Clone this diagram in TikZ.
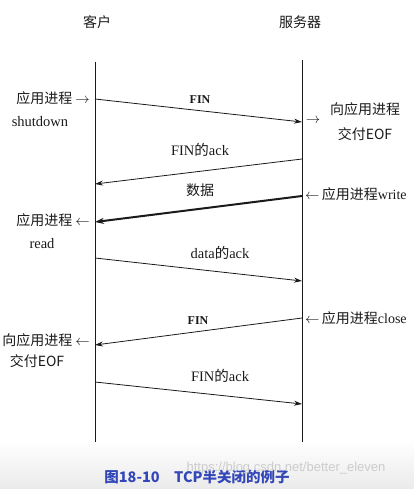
\documentclass[tikz,border=0pt]{standalone}
\usepackage{fontspec}
\setmainfont{Liberation Serif}
\newfontfamily\cjk{Noto Sans CJK SC}
\newfontfamily\wmfont{Liberation Sans}
\usetikzlibrary{arrows.meta}
\definecolor{ink}{HTML}{1A1A1A}
\definecolor{capblue}{HTML}{3347B8}
\begin{document}
\begin{tikzpicture}[x=1pt,y=-1pt,
  every node/.style={inner sep=1pt, text=ink},
  lbl/.style={font=\cjk\fontsize{14}{16}\selectfont},
  mlbl/.style={font=\fontsize{14.5}{16}\selectfont},
  life/.style={draw=ink, line width=0.8pt},
  msg/.style={draw=ink, line width=0.8pt, -{Stealth[length=8pt,width=5pt]}},
  bigmsg/.style={draw=ink, line width=2pt, -{Stealth[length=9pt,width=6pt]}}]
\useasboundingbox (0,0) rectangle (414,489);
\shade[top color=white, bottom color=black!8] (0,440) rectangle (414,489);
% headers
\node[lbl] (hc) at (97,22) {客户};
\node[lbl] (hs) at (300,22) {服务器};
% lifelines
\coordinate (ct) at (95,62); \coordinate (cb) at (95,442);
\coordinate (st) at (302,60); \coordinate (sb) at (302,442);
\draw[life] (ct) -- (cb);
\draw[life] (st) -- (sb);
% message endpoints
\coordinate (a1) at (95,99);  \coordinate (b1) at (302,122);
\coordinate (a2) at (302,159); \coordinate (b2) at (95,184);
\coordinate (a3) at (302,196); \coordinate (b3) at (95,222);
\coordinate (a4) at (95,258); \coordinate (b4) at (302,281);
\coordinate (a5) at (302,318); \coordinate (b5) at (95,345);
\coordinate (a6) at (95,382); \coordinate (b6) at (302,404);
\draw[msg] (a1) -- (b1);
\draw[msg] (a2) -- (b2);
\draw[bigmsg] (a3) -- (b3);
\draw[msg] (a4) -- (b4);
\draw[msg] (a5) -- (b5);
\draw[msg] (a6) -- (b6);
% message labels
\node[font=\bfseries\fontsize{12}{14}\selectfont] (m1) at (200,100) {FIN};
\node[mlbl] (m2) at (200,150) {FIN{\cjk 的}ack};
\node[lbl] (m3) at (200,190) {数据};
\node[mlbl] (m4) at (220,253) {data{\cjk 的}ack};
\node[font=\bfseries\fontsize{12}{14}\selectfont] (m5) at (198,321) {FIN};
\node[mlbl] (m6) at (220,376) {FIN{\cjk 的}ack};
% left side labels
\node[lbl, anchor=east] (l1) at (91,98) {应用进程 $\rightarrow$};
\node[mlbl] (l1b) at (40,122) {shutdown};
\node[lbl, anchor=east] (l2) at (91,220) {应用进程 $\leftarrow$};
\node[mlbl] (l2b) at (42,244) {read};
\node[lbl, anchor=east] (l3) at (91,340) {向应用进程 $\leftarrow$};
\node[lbl] (l3b) at (37,361) {交付EOF};
% right side labels
\node[mlbl] (r1a) at (313,121) {$\rightarrow$};
\node[lbl] (r1) at (365,109) {向应用进程};
\node[lbl] (r1b) at (365,134) {交付EOF};
\node[lbl, anchor=west] (r2) at (304,194) {$\leftarrow$\,应用进程{\fontspec{Liberation Serif}write}};
\node[lbl, anchor=west] (r3) at (304,318) {$\leftarrow$\,应用进程{\fontspec{Liberation Serif}close}};
% caption and watermark
\node[font=\cjk\bfseries\fontsize{14.5}{16}\selectfont, text=capblue] (cap) at (197,477) {图18-10\quad TCP半关闭的例子};
\node[font=\wmfont\fontsize{13}{15}\selectfont, text=black!20] (wm) at (286,468) {https://blog.csdn.net/better\_eleven};
\end{tikzpicture}
\end{document}
